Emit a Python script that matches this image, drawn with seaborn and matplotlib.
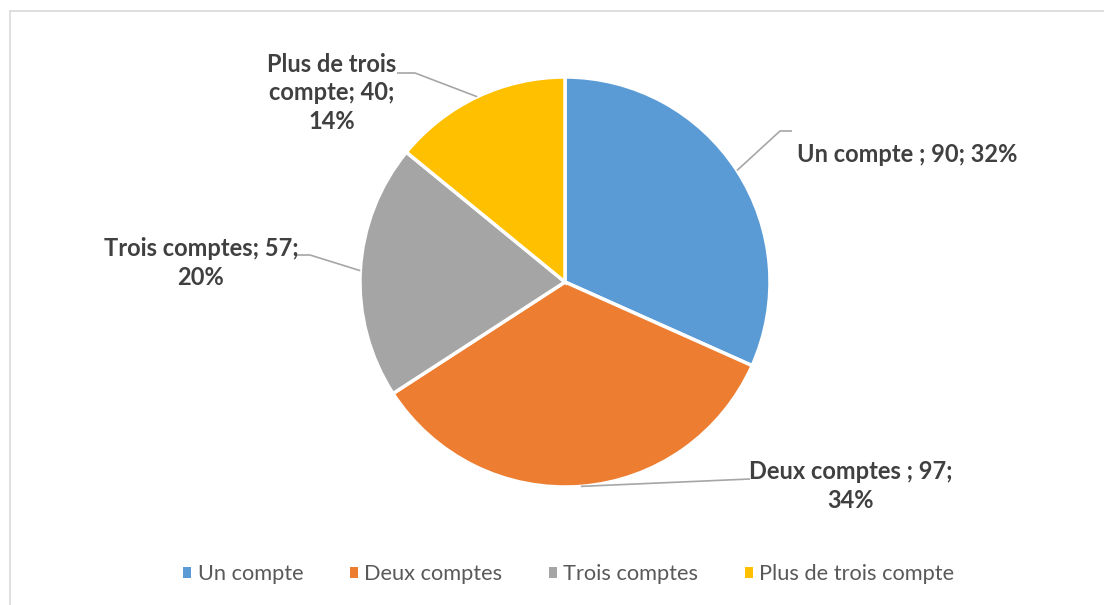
import numpy as np
import matplotlib
matplotlib.use("Agg")
import matplotlib.pyplot as plt
import seaborn as sns

# data
categories = ["Un compte", "Deux comptes", "Trois comptes", "Plus de trois compte"]
values = [90, 97, 57, 40]
percents = ["32%", "34%", "20%", "14%"]
label_texts = [
    "Un compte ; 90; 32%",
    "Deux comptes ; 97;\n34%",
    "Trois comptes; 57;\n20%",
    "Plus de trois\ncompte; 40;\n14%",
]
colors = ["#5B9BD5", "#ED7D31", "#A5A5A5", "#FFC000"]

sns.set_theme(style="white")
plt.rcParams["font.family"] = ["Lato", "DejaVu Sans"]

W, H = 1104, 605
fig = plt.figure(figsize=(W / 100, H / 100), dpi=100)
ax = fig.add_axes([0, 0, 1, 1])

cx, cy, r = 565, H - 282, 205
wedges, _ = ax.pie(values, colors=colors, startangle=90, counterclock=False,
                   center=(cx, cy), radius=r,
                   wedgeprops=dict(edgecolor="white", linewidth=2.5))
ax.set_xlim(0, W)
ax.set_ylim(0, H)
ax.set_aspect("auto")
ax.axis("off")

# label placement (pixel coords from top) and leader elbows
label_pos = [(797, 155, "left"), (851, 486, "center"), (201, 263, "center"), (332, 93, "center")]
elbows = [[(780, 131), (792, 131)],
          [(750, 479)],
          [(310, 255), (297, 255)],
          [(415, 73), (397, 73)]]

for w, (tx, ty, ha), elb, txt in zip(wedges, label_pos, elbows, label_texts):
    mid = np.deg2rad((w.theta1 + w.theta2) / 2)
    sx, sy = cx + r * np.cos(mid), cy + r * np.sin(mid)
    xs = [sx] + [p[0] for p in elb]
    ys = [sy] + [H - p[1] for p in elb]
    ax.plot(xs, ys, color="#A6A6A6", lw=1.2, solid_capstyle="butt")
    ax.text(tx, H - ty, txt, ha=ha, va="center", fontsize=17, fontweight="bold",
            color="#404040", linespacing=1.3, multialignment="center")

# chart border (top and left visible)
ax.plot([10, W], [H - 11, H - 11], color="#D9D9D9", lw=1.2)
ax.plot([10, 10], [H - 11, 0], color="#D9D9D9", lw=1.2)

leg = fig.legend(wedges, categories, loc="center", ncol=4,
                 bbox_to_anchor=(569 / W, 1 - 574 / H), frameon=False,
                 handlelength=0.35, handleheight=0.4, handletextpad=0.3,
                 columnspacing=2.15, fontsize=15.7)
for t in leg.get_texts():
    t.set_color("#595959")
for h in leg.legend_handles:
    h.set_edgecolor("none")

fig.savefig("out.png", dpi=100)
